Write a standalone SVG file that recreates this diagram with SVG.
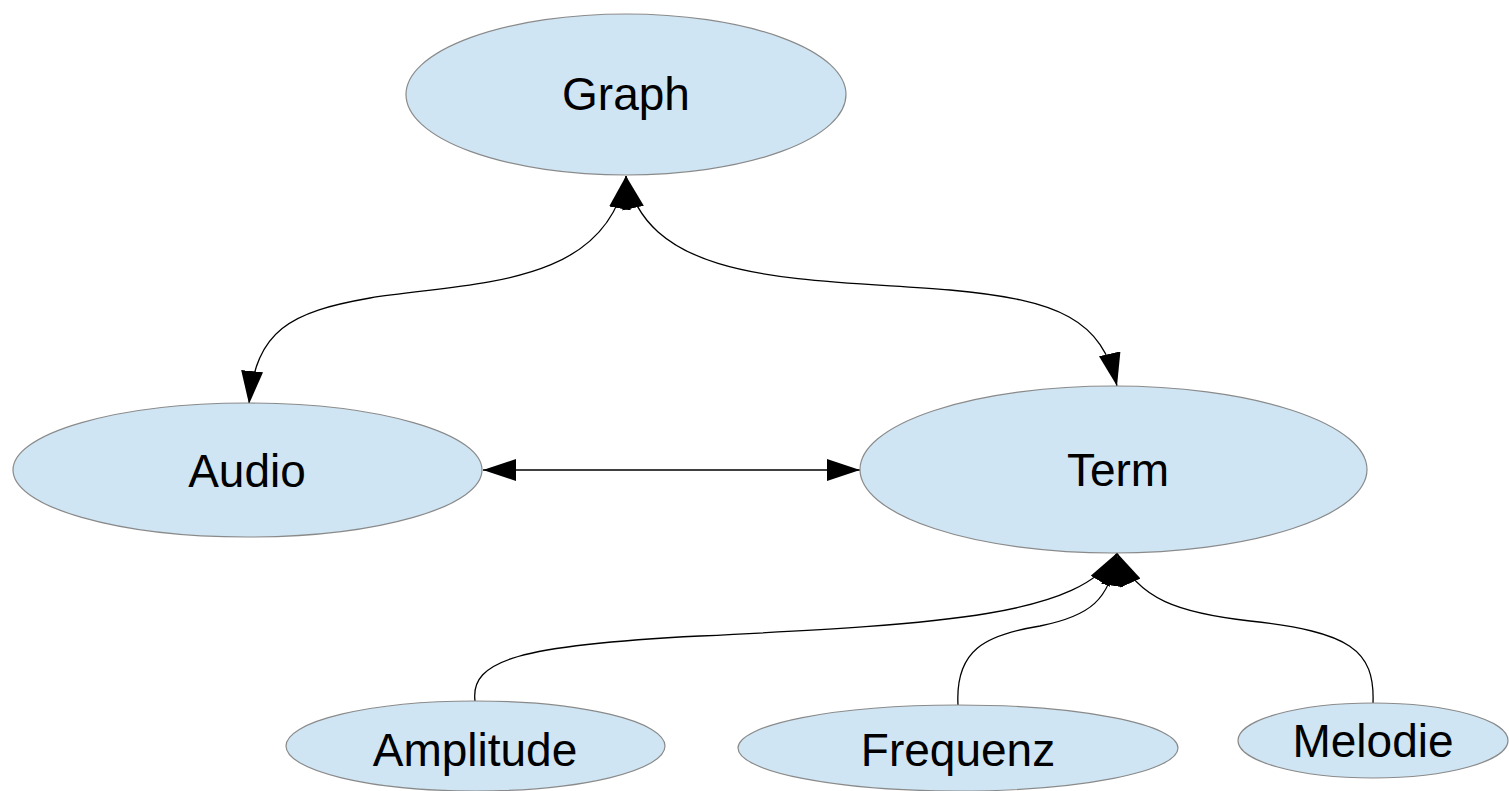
<svg xmlns="http://www.w3.org/2000/svg" width="1509" height="791" viewBox="0 0 1509 791">
  <style>
    .node ellipse { fill: #cfe5f3; stroke: #8a8a8a; stroke-width: 1.2; }
    .node text { font-family: "Liberation Sans", Arial, sans-serif; font-size: 46px; fill: #000; text-anchor: middle; }
    .edge { fill: none; stroke: #000; stroke-width: 1.3; }
  </style>
  <defs>
    <marker id="arrow" viewBox="0 0 33 22" refX="33" refY="11" markerWidth="33" markerHeight="22" markerUnits="userSpaceOnUse" orient="auto-start-reverse">
      <path d="M0 0 L33 11 L0 22 z" fill="#000"/>
    </marker>
  </defs>
  <rect width="1509" height="791" fill="#fff"/>

  <g id="connectors">
    <!-- Audio <-> Graph -->
    <path class="edge" d="M 249 404 C 256 330, 290 312, 370 298 C 470 282, 605 288, 626 176" marker-start="url(#arrow)" marker-end="url(#arrow)"/>
    <!-- Graph <-> Term -->
    <path class="edge" d="M 626 176 C 650 285, 800 278, 950 290 C 1060 300, 1102 320, 1117 386" marker-start="url(#arrow)" marker-end="url(#arrow)"/>
    <!-- Audio <-> Term -->
    <path class="edge" d="M 483 470 L 860 470" marker-start="url(#arrow)" marker-end="url(#arrow)"/>
    <!-- Amplitude -> Term -->
    <path class="edge" d="M 475 701 C 470 660, 520 645, 700 636 C 950 624, 1080 615, 1117 553" marker-end="url(#arrow)"/>
    <!-- Frequenz -> Term -->
    <path class="edge" d="M 958 705 C 955 650, 985 635, 1040 626 C 1090 616, 1110 600, 1117 553" marker-end="url(#arrow)"/>
    <!-- Melodie -> Term -->
    <path class="edge" d="M 1373 703 C 1375 650, 1350 632, 1250 621 C 1180 613, 1138 600, 1117 553" marker-end="url(#arrow)"/>
  </g>

  <g id="graph" class="node">
    <ellipse cx="626" cy="94.5" rx="220" ry="80.5"/>
    <text x="626" y="110">Graph</text>
  </g>
  <g id="audio" class="node">
    <ellipse cx="247.5" cy="470" rx="234.5" ry="67"/>
    <text x="247" y="487">Audio</text>
  </g>
  <g id="term" class="node">
    <ellipse cx="1113.5" cy="469.5" rx="253.5" ry="83.5"/>
    <text x="1118" y="486">Term</text>
  </g>
  <g id="amplitude" class="node">
    <ellipse cx="475.5" cy="746" rx="189.5" ry="45"/>
    <text x="475" y="766">Amplitude</text>
  </g>
  <g id="frequenz" class="node">
    <ellipse cx="958" cy="748" rx="220" ry="43"/>
    <text x="958" y="766">Frequenz</text>
  </g>
  <g id="melodie" class="node">
    <ellipse cx="1373" cy="740.5" rx="135" ry="37.5"/>
    <text x="1373" y="757">Melodie</text>
  </g>
</svg>
